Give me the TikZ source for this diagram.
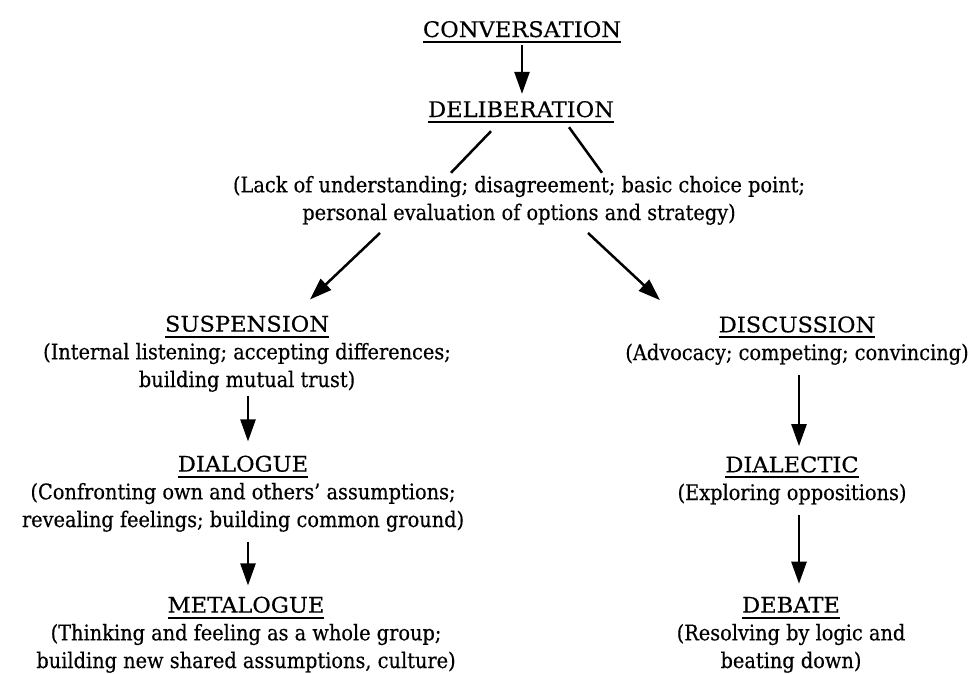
\documentclass[tikz,border=0pt]{standalone}
\usepackage{fontspec}
\setmainfont[FakeBold=0.4]{DejaVu Serif Condensed}
\newfontfamily\ttlfont[FakeStretch=1.05,FakeBold=0.4]{DejaVu Serif}
\usetikzlibrary{arrows.meta}
\newcommand\myul[1]{\setbox0\hbox{\ttlfont #1}\rlap{\rule[-6pt]{\wd0}{2pt}}\box0}
\begin{document}
\begin{tikzpicture}[x=1pt,y=-1pt,
  lbl/.style={font=\fontsize{21.5}{27.7}\selectfont, align=center, inner sep=0pt, anchor=base},
  arr/.style={line width=2.5pt, -{Triangle[length=22pt,width=15pt]}},
  ln/.style={line width=2.5pt}]
\useasboundingbox[fill=white] (0,0) rectangle (975,673);
\node[lbl] (conv) at (522,37) {\myul{CONVERSATION}};
\node[lbl] (delib) at (521,117) {\myul{DELIBERATION}};
\node[lbl] (lack) at (519,220) {(Lack of understanding; disagreement; basic choice point;\\ personal evaluation of options and strategy)};
\node[lbl] (susp) at (247,387) {\myul{SUSPENSION}\\(Internal listening; accepting differences;\\ building mutual trust)};
\node[lbl] (disc) at (797,360) {\myul{DISCUSSION}\\(Advocacy; competing; convincing)};
\node[lbl] (dial) at (243,527) {\myul{DIALOGUE}\\(Confronting own and others’ assumptions;\\ revealing feelings; building common ground)};
\node[lbl] (meta) at (246,668) {\myul{METALOGUE}\\(Thinking and feeling as a whole group;\\ building new shared assumptions, culture)};
\node[lbl] (dialec) at (792,500) {\myul{DIALECTIC}\\(Exploring oppositions)};
\node[lbl] (debate) at (791,668) {\myul{DEBATE}\\(Resolving by logic and\\ beating down)};

\draw[arr] ([yshift=-2pt]conv.south) -- ([xshift=1pt,yshift=7pt]delib.north);
\draw[ln] ([xshift=-30pt,yshift=-8pt]delib.south) -- ([xshift=-68pt,yshift=3pt]lack.north);
\draw[ln] ([xshift=48pt,yshift=-4pt]delib.south) -- ([xshift=83pt,yshift=3pt]lack.north);
\draw[arr] ([xshift=-139pt,yshift=-8pt]lack.south) -- ([xshift=63pt,yshift=16pt]susp.north);
\draw[arr] ([xshift=69pt,yshift=-8pt]lack.south) -- ([xshift=-137pt,yshift=16pt]disc.north);
\draw[arr] ([xshift=1pt,yshift=-4pt]susp.south) -- ([xshift=5pt,yshift=14pt]dial.north);
\draw[arr] ([xshift=5pt,yshift=-10pt]dial.south) -- ([xshift=2pt,yshift=11pt]meta.north);
\draw[arr] ([xshift=2pt,yshift=-10pt]disc.south) -- ([xshift=7pt,yshift=10pt]dialec.north);
\draw[arr] ([xshift=7pt,yshift=-10pt]dialec.south) -- ([xshift=8pt,yshift=13pt]debate.north);
\end{tikzpicture}
\end{document}
